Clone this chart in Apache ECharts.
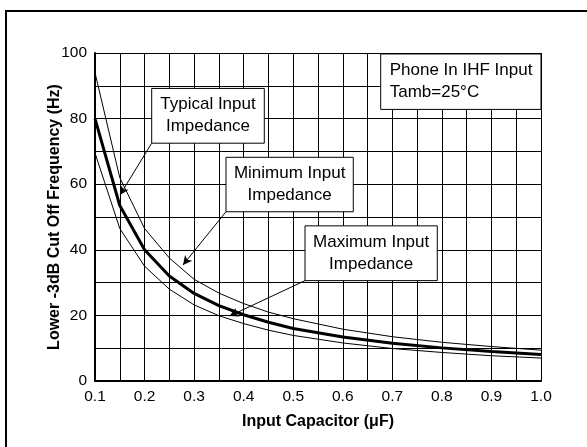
<!DOCTYPE html>
<html>
<head>
<meta charset="utf-8">
<script src="https://cdn.jsdelivr.net/npm/echarts@6/dist/echarts.min.js"></script>
<style>
html,body{margin:0;padding:0;background:#fff;}
#chart{width:587px;height:447px;}
</style>
</head>
<body>
<div id="chart"></div>
<script>
// Data
var capacitor = [0.1, 0.15, 0.2, 0.25, 0.3, 0.35, 0.4, 0.45, 0.5, 0.6, 0.7, 0.8, 0.9, 1.0];
var minImpedance = [94, 62, 46.5, 37.5, 31, 26.8, 23.6, 21, 19, 15.8, 13.5, 11.8, 10.5, 9.4];
var typImpedance = [80, 53.5, 40, 32, 26.7, 23, 20.2, 17.9, 16, 13.4, 11.5, 10.1, 9, 8.1];
var maxImpedance = [69.5, 46.5, 35, 28, 23.2, 19.9, 17.5, 15.5, 13.9, 11.6, 9.9, 8.7, 7.7, 7];
var xTicks = [0.1, 0.2, 0.3, 0.4, 0.5, 0.6, 0.7, 0.8, 0.9, 1.0];
var yTicks = [0, 20, 40, 60, 80, 100];

// Annotations in data coordinates: box [x0, y0(top), x1, y1(bottom)], arrow [from, to]
var notes = [
  {lines: ['Typical Input', 'Impedance'], box: [0.2144, 89.2, 0.4416, 72.5], arrow: [[0.2144, 72.5], [0.1504, 56.7]], align: 'center'},
  {lines: ['Minimum Input', 'Impedance'], box: [0.3643, 68.2, 0.6212, 51.6], arrow: [[0.3643, 51.6], [0.2776, 35.4]], align: 'center'},
  {lines: ['Maximum Input', 'Impedance'], box: [0.5238, 47.3, 0.7907, 30.6], arrow: [[0.5238, 30.6], [0.3714, 19.8]], align: 'center'},
  {lines: ['Phone In IHF Input', 'Tamb=25\u00B0C'], box: [0.6765, 99.7, 1.0, 82.8], arrow: null, align: 'left'}
];

function pairs(xs, ys){ return xs.map(function(x,i){ return [x, ys[i]]; }); }

var FONT = '"Liberation Sans", Arial, sans-serif';
var chart = echarts.init(document.getElementById('chart'), null, {renderer: 'canvas'});

var arrowData = notes.filter(function(n){return n.arrow;}).map(function(n){
  return [{coord: n.arrow[0]}, {coord: n.arrow[1]}];
});

var option = {
  animation: false,
  backgroundColor: '#fff',
  grid: {left: 95, top: 53, width: 446, height: 328, containLabel: false},
  xAxis: {
    type: 'value', min: 0.1, max: 1.0, interval: 0.1,
    name: 'Input Capacitor (\u03BCF)', nameLocation: 'middle', nameGap: 33, nameMoveOverlap: false,
    nameTextStyle: {fontFamily: FONT, fontSize: 16, fontWeight: 'bold', color: '#000'},
    axisLine: {show: true, onZero: false, lineStyle: {color: '#000', width: 2}},
    axisTick: {show: true, inside: true, length: 4, lineStyle: {color: '#000'}},
    minorTick: {show: true, splitNumber: 2, length: 4, lineStyle: {color: '#000'}},
    axisLabel: {fontFamily: FONT, fontSize: 15.5, color: '#000', margin: 8,
      formatter: function(v){ var t = Math.round(v*10)/10; return xTicks.indexOf(t) >= 0 ? t.toFixed(1) : ''; }},
    splitLine: {show: true, lineStyle: {color: '#000', width: 1}},
    minorSplitLine: {show: true, lineStyle: {color: '#000', width: 1}}
  },
  yAxis: {
    type: 'value', min: 0, max: 100, interval: 20,
    name: 'Lower -3dB Cut Off Frequency (Hz)', nameLocation: 'middle', nameGap: 32, nameMoveOverlap: false,
    nameTextStyle: {fontFamily: FONT, fontSize: 16, fontWeight: 'bold', color: '#000'},
    axisLine: {show: true, lineStyle: {color: '#000', width: 2}},
    axisTick: {show: false},
    minorTick: {show: false, splitNumber: 2},
    axisLabel: {fontFamily: FONT, fontSize: 15.5, color: '#000', margin: 8,
      formatter: function(v){ return yTicks.indexOf(v) >= 0 ? String(v) : ''; }},
    splitLine: {show: true, lineStyle: {color: '#000', width: 1}},
    minorSplitLine: {show: true, lineStyle: {color: '#000', width: 1}}
  },
  series: [
    {type: 'line', name: 'Minimum', data: pairs(capacitor, minImpedance), showSymbol: false, smooth: false,
     lineStyle: {color: '#000', width: 1}, z: 3},
    {type: 'line', name: 'Typical', data: pairs(capacitor, typImpedance), showSymbol: false, smooth: false,
     lineStyle: {color: '#000', width: 3}, z: 3},
    {type: 'line', name: 'Maximum', data: pairs(capacitor, maxImpedance), showSymbol: false, smooth: false,
     lineStyle: {color: '#000', width: 1}, z: 3,
     markLine: {silent: true, symbol: ['none', 'arrow'], symbolSize: [7, 9], label: {show: false},
       lineStyle: {color: '#000', width: 1, type: 'solid'}, data: arrowData}}
  ]
};
chart.setOption(option);

// Annotation boxes and the outer frame
var graphics = [{type: 'rect', shape: {x: 6, y: 11, width: 700, height: 600}, style: {fill: 'none', stroke: '#000', lineWidth: 2}, z: 0}];
notes.forEach(function(n){
  var p0 = chart.convertToPixel({gridIndex: 0}, [n.box[0], n.box[1]]);
  var p1 = chart.convertToPixel({gridIndex: 0}, [n.box[2], n.box[3]]);
  var w = p1[0]-p0[0], h = p1[1]-p0[1];
  graphics.push({type: 'rect', z: 20, shape: {x: p0[0], y: p0[1], width: w, height: h},
    style: {fill: '#fff', stroke: '#000', lineWidth: 1}});
  var cy = p0[1] + h/2;
  var tx = n.align === 'center' ? p0[0] + w/2 : p0[0] + 9;
  n.lines.forEach(function(line, i){
    graphics.push({type: 'text', z: 21, x: tx, y: cy + (i - 0.5) * 22,
      style: {text: line, font: '17px ' + FONT, fill: '#000', textAlign: n.align, textVerticalAlign: 'middle'}});
  });
});
chart.setOption({graphic: graphics});
</script>
</body>
</html>
